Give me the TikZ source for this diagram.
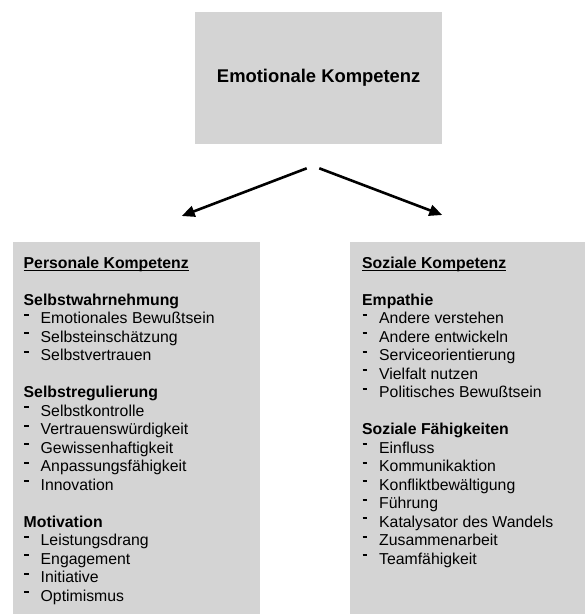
\documentclass[tikz,border=0pt]{standalone}
\usepackage{fontspec}
\setmainfont{Liberation Sans}
\usetikzlibrary{arrows.meta}
\definecolor{boxgray}{RGB}{212,212,212}
\newcommand\myul[1]{\setbox0\hbox{#1}\rlap{\rule[-2.6pt]{\wd0}{0.9pt}}\box0}
\newcommand\itm[1]{\hbox{\makebox[17pt][l]{\hspace*{0.4pt}\rule[8pt]{4.4pt}{2pt}}#1}}
\newcommand\hd[1]{\hbox{\bfseries #1}}
\newcommand\blank{\hbox{}}
\tikzset{
  graybox/.style={fill=boxgray, draw=none, inner sep=0pt, anchor=north west},
  listtext/.style={anchor=base west, inner sep=0pt, font=\fontsize{15.8}{18.5}\selectfont},
  arr/.style={line width=2.6pt, -{Triangle[length=13pt,width=11pt]}}
}
\begin{document}
\begin{tikzpicture}[x=1pt,y=-1pt]
\useasboundingbox (0,0) rectangle (585,614);
% boxes
\node[graybox, minimum width=247pt, minimum height=132pt,
      font=\bfseries\fontsize{18.4}{22}\selectfont] (top) at (195,12) {Emotionale Kompetenz};
\node[graybox, minimum width=247pt, minimum height=372pt] (pers) at (13,242) {};
\node[graybox, minimum width=235pt, minimum height=372pt] (soz) at (350,242) {};
% arrows
\coordinate (a1s) at (306.7,168.3);
\coordinate (a1e) at (181.7,216);
\coordinate (a2s) at (319.3,168.3);
\coordinate (a2e) at (442.3,215);
\draw[arr] (a1s) -- (a1e);
\draw[arr] (a2s) -- (a2e);
% texts
\node[listtext] (perstext) at (23.5,268) {\vtop{
  \hbox{\bfseries\myul{Personale Kompetenz}}
  \blank
  \hd{Selbstwahrnehmung}
  \itm{Emotionales Bewußtsein}
  \itm{Selbsteinschätzung}
  \itm{Selbstvertrauen}
  \blank
  \hd{Selbstregulierung}
  \itm{Selbstkontrolle}
  \itm{Vertrauenswürdigkeit}
  \itm{Gewissenhaftigkeit}
  \itm{Anpassungsfähigkeit}
  \itm{Innovation}
  \blank
  \hd{Motivation}
  \itm{Leistungsdrang}
  \itm{Engagement}
  \itm{Initiative}
  \itm{Optimismus}
}};
\node[listtext] (soztext) at (362,268) {\vtop{
  \hbox{\bfseries\myul{Soziale Kompetenz}}
  \blank
  \hd{Empathie}
  \itm{Andere verstehen}
  \itm{Andere entwickeln}
  \itm{Serviceorientierung}
  \itm{Vielfalt nutzen}
  \itm{Politisches Bewußtsein}
  \blank
  \hd{Soziale Fähigkeiten}
  \itm{Einfluss}
  \itm{Kommunikaktion}
  \itm{Konfliktbewältigung}
  \itm{Führung}
  \itm{Katalysator des Wandels}
  \itm{Zusammenarbeit}
  \itm{Teamfähigkeit}
}};
\end{tikzpicture}
\end{document}
